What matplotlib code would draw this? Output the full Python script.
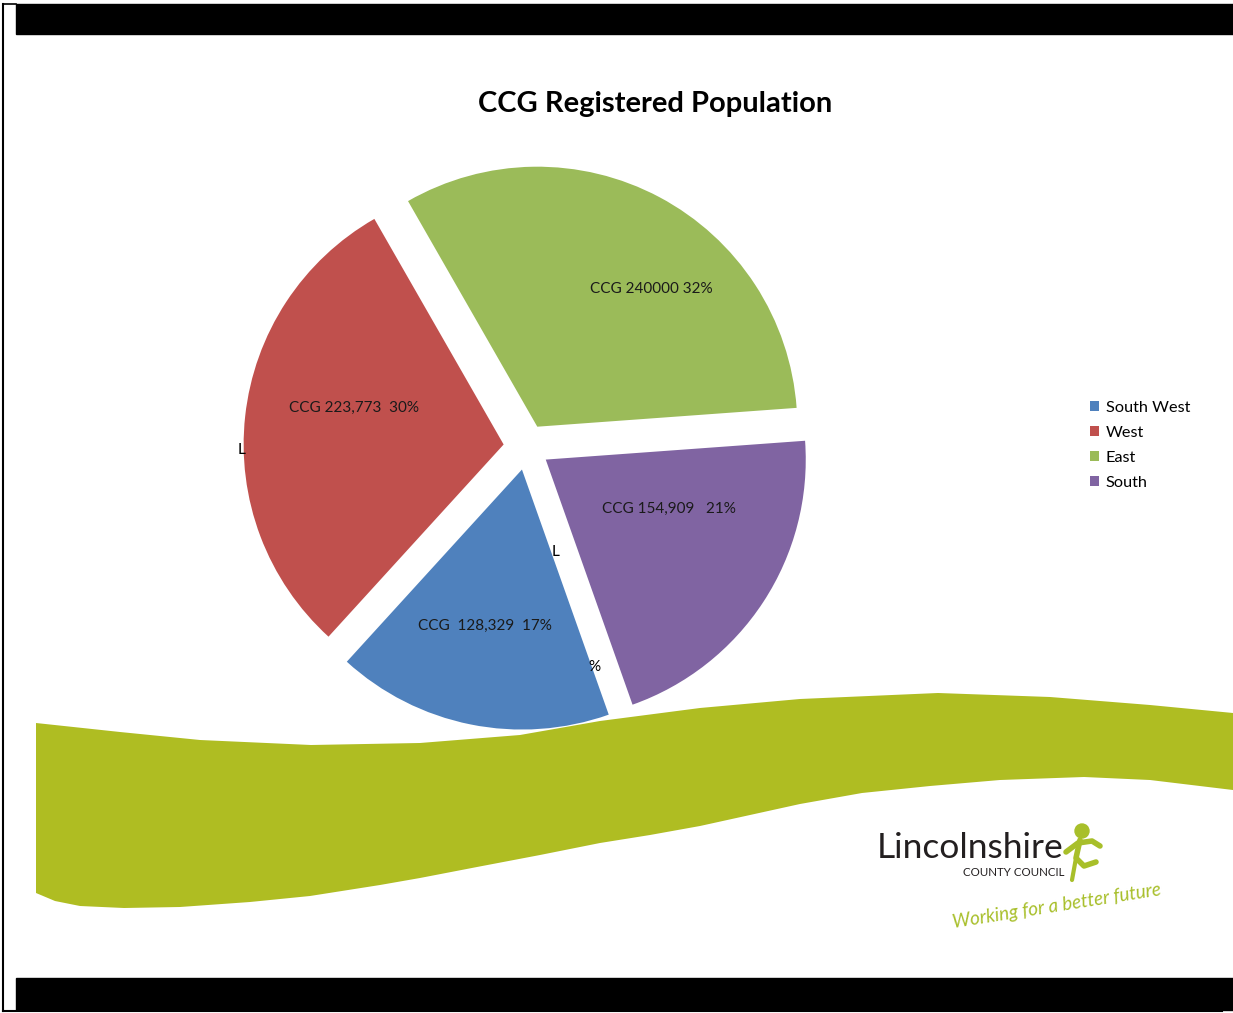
import matplotlib.pyplot as plt
from matplotlib.patches import Polygon, Circle, Rectangle

# data
names = ['South West', 'West', 'East', 'South']
population = [128329, 223773, 240000, 154909]
slice_labels = ['CCG  128,329  17%', 'CCG 223,773  30%', 'CCG 240000 32%', 'CCG 154,909   21%']
colours = ['#4F81BD', '#C0504D', '#9BBB59', '#8064A2']

# layout (pixel coordinates, y down)
label_pos = [(485, 626), (354, 408), (651, 289), (669, 509)]
pie_centre = (526.5, 447)
pie_radius = 260
explode_px = 23
swoosh_top = [(36, 723), (120, 732), (200, 740), (311, 745), (420, 743), (520, 735),
              (600, 721), (700, 708), (800, 699), (938, 693), (1050, 697), (1150, 705),
              (1233, 713)]
swoosh_bottom = [(1233, 790), (1150, 780), (1084, 777), (1000, 780), (930, 786), (862, 793),
                 (800, 804), (750, 815), (700, 826), (650, 835), (600, 843), (540, 855),
                 (477, 867), (420, 878), (380, 885), (310, 896), (250, 902), (180, 907),
                 (124, 908), (80, 906), (55, 901), (36, 893)]

fig = plt.figure(figsize=(12.33, 10.13), dpi=100)
ax = fig.add_axes([0, 0, 1, 1])

# black bars and frame
ax.add_patch(Rectangle((16, 4), 1217, 30, color='black', zorder=1))
ax.add_patch(Rectangle((16, 978), 1217, 32, color='black', zorder=1))
ax.plot([3, 16], [4, 4], color='black', lw=1.2)
ax.plot([3, 3], [4, 1011], color='black', lw=1.5)
ax.plot([3, 1222], [1011, 1011], color='black', lw=1.5)

# green swoosh
ax.add_patch(Polygon(swoosh_top + swoosh_bottom, closed=True, color='#AFBD22', lw=0, zorder=1))

# pie (y axis is inverted, so counterclock in data is clockwise on screen)
wedges, _ = ax.pie(population, colors=colours, startangle=70.5, counterclock=True,
                   explode=[explode_px] * 4, radius=pie_radius, center=pie_centre,
                   wedgeprops=dict(linewidth=0), frame=True)
for w in wedges:
    w.set_zorder(3)

for txt, (x, y) in zip(slice_labels, label_pos):
    ax.text(x, y, txt, ha='center', va='center', fontsize=11, family='Lato',
            color='#1a1a1a', zorder=4)

# leftover label fragments
ax.text(242, 450, 'L', ha='center', va='center', fontsize=11, family='Lato', zorder=4)
ax.text(556, 552, 'L', ha='center', va='center', fontsize=11, family='Lato', zorder=4)
ax.text(594, 667, '%', ha='center', va='center', fontsize=11, family='Lato', zorder=4)

ax.text(655, 104, 'CCG Registered Population', ha='center', va='center',
        fontsize=21, fontweight='bold', family='Lato')

ax.set_xlim(0, 1233)
ax.set_ylim(1013, 0)
ax.set_aspect('auto')
ax.axis('off')

leg = ax.legend(wedges, names, loc='upper left', bbox_to_anchor=(1082 / 1233, 1 - 393 / 1013),
                frameon=False, handlelength=0.55, handleheight=0.55, handletextpad=0.4,
                labelspacing=0.67, prop={'family': 'Lato', 'size': 11.7}, borderpad=0)

# logo
ax.text(877, 848, 'Lincolnshire', ha='left', va='center', fontsize=25.5,
        family='Lato', color='#231f20')
ax.text(1064, 872, 'COUNTY COUNCIL', ha='right', va='center', fontsize=8.3,
        family='Lato', color='#231f20')
ax.text(1057, 906, 'Working for a better future', ha='center', va='center', fontsize=13.5,
        family='Lato', style='italic', color='#A8BF2A', rotation=9)
ax.add_patch(Circle((1082, 831), 7, color='#A8BF2A', zorder=4))
ax.plot([1066, 1078, 1092, 1100], [852, 843, 841, 846], color='#A8BF2A', lw=4,
        solid_capstyle='round', zorder=4)
ax.plot([1080, 1076, 1084, 1096], [840, 858, 866, 862], color='#A8BF2A', lw=4,
        solid_capstyle='round', zorder=4)
ax.plot([1076, 1072], [858, 880], color='#A8BF2A', lw=3, solid_capstyle='round', zorder=4)

fig.savefig('out.png', dpi=100, facecolor='white')
